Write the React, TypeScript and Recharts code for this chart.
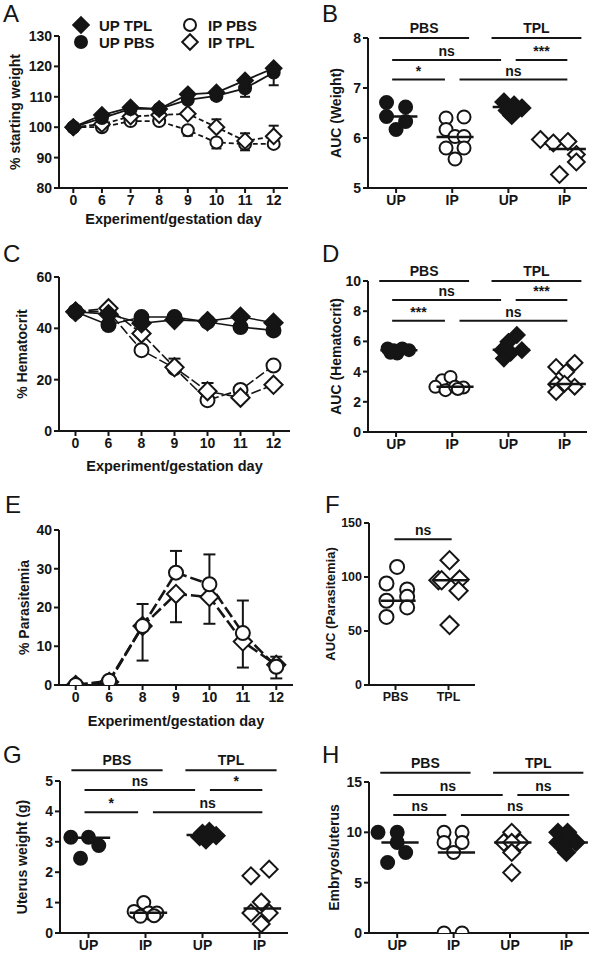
import React from 'react';
import {
  LineChart, Line, XAxis, YAxis, ErrorBar, ScatterChart, Scatter, ReferenceLine, Legend,
} from 'recharts';

const FONT = '"Liberation Sans", Arial, Helvetica, sans-serif';
const INK = '#151515';

// A - body weight (% of starting weight)
const weightDays = ['0', '6', '7', '8', '9', '10', '11', '12'];
const weightUpTpl = [100, 104, 106.5, 106, 110.8, 111.4, 115.4, 119.4];
const weightUpPbs = [100, 103, 106, 106, 109, 110.3, 112.8, 118];
const weightIpPbs = [100, 100, 102, 102, 99, 95, 94.5, 94.5];
const weightIpTpl = [100, 101, 103.5, 104, 104.4, 100, 95.5, 97];
const weightUpPbsSem = [0, 0, 0, 0, 0, 1.3, 2.8, 4.2];
const weightIpPbsSem = [0, 0, 0, 0, 1.8, 2, 2.1, 0];
const weightIpTplSem = [0, 0, 0, 0, 0, 2.6, 2.5, 3.5];

// C - hematocrit
const hctDays = ['0', '6', '8', '9', '10', '11', '12'];
const hctUpTpl = [46.5, 45.5, 42, 43.3, 42.8, 44.5, 42.2];
const hctUpPbs = [46.5, 41.3, 44.4, 44.4, 42.5, 40.5, 39.2];
const hctIpPbs = [46.5, 46.5, 31.5, 24.5, 12, 16, 25.5];
const hctIpTpl = [46.5, 47.8, 38, 24.8, 15.5, 13, 18];
const hctIpTplSem = [0, 0, 0, 3.4, 3.2, 0, 0];

// E - parasitemia
const paraDays = ['0', '6', '8', '9', '10', '11', '12'];
const paraIpPbs = [0, 1.1, 15.2, 29, 26, 13.4, 4.7];
const paraIpTpl = [0, 0.8, 15.2, 23.5, 22.7, 11.2, 5.2];
const paraIpPbsSem = [0, 0, 5.7, 5.6, 7.7, 8.4, 2.6];
const paraIpTplSem = [0, 0, 8.9, 7.3, 6.9, 6.7, 3.5];

// B - AUC weight (values, horizontal scatter in category units)
const upIpLabels = ['UP', 'IP', 'UP', 'IP'];
const aucWeightUpPbs = [6.71, 6.62, 6.43, 6.33, 6.17];
const aucWeightUpPbsX = [-0.17, 0.17, -0.17, 0.17, 0];
const aucWeightIpPbs = [6.4, 6.42, 6.17, 6.03, 6.03, 5.8, 5.8, 5.58];
const aucWeightIpPbsX = [-0.11, 0.21, -0.11, 0.05, 0.21, -0.11, 0.21, 0.05];
const aucWeightUpTpl = [6.72, 6.66, 6.6, 6.55, 6.45];
const aucWeightUpTplX = [-0.08, 0.1, 0.24, -0.02, 0.06];
const aucWeightIpTpl = [5.97, 5.9, 5.93, 5.67, 5.52, 5.27];
const aucWeightIpTplX = [-0.43, -0.2, 0.06, 0.21, 0.21, -0.09];
const aucWeightMedians = [6.43, 6.02, 6.62, 5.78];
const aucWeightLevels = [8, 7.56, 7.17];
const aucWeightStars = ['ns', '***', '*', 'ns'];

// D - AUC hematocrit
const aucHctUpPbs = [5.53, 5.42, 5.53, 5.42, 5.2, 5.25];
const aucHctUpPbsX = [-0.15, -0.04, 0.11, 0.23, 0.02, -0.1];
const aucHctIpPbs = [3.43, 3.65, 2.99, 2.77, 3.0, 2.95, 2.85];
const aucHctIpPbsX = [-0.18, -0.03, -0.3, -0.12, 0.05, 0.2, 0.1];
const aucHctUpTpl = [6.42, 5.97, 5.42, 5.42, 5.25, 4.87];
const aucHctUpTplX = [0.15, 0, 0.24, -0.11, 0.04, -0.08];
const aucHctIpTpl = [4.31, 4.58, 3.98, 3.16, 2.65, 3.0, 3.2];
const aucHctIpTplX = [-0.15, 0.18, 0.03, -0.15, -0.15, 0.18, 0];
const aucHctMedians = [5.42, 3.0, 5.45, 3.18];
const aucHctLevels = [10, 8.74, 7.37];
const aucHctStars = ['ns', '***', '***', 'ns'];

// F - AUC parasitemia
const treatLabels = ['PBS', 'TPL'];
const aucParaPbs = [109.3, 94, 88.4, 78, 81.6, 71.8, 63];
const aucParaPbsX = [0.03, -0.17, 0.22, -0.17, 0.22, 0.22, -0.17];
const aucParaTpl = [115.5, 97, 97, 97.6, 87.2, 55.5];
const aucParaTplX = [0.02, -0.19, -0.13, 0.21, 0.19, 0.02];
const aucParaMedians = [78, 97];
const aucParaLevel = 135;

// G - uterus weight
const uterusUpPbs = [3.15, 3.15, 2.88, 2.46];
const uterusUpPbsX = [-0.31, 0, 0.18, -0.14];
const uterusIpPbs = [1.0, 0.71, 0.66, 0.66, 0.55, 0.57];
const uterusIpPbsX = [-0.03, -0.2, 0.06, 0.2, -0.09, 0.15];
const uterusUpTpl = [3.28, 3.34, 3.2, 3.06, 3.17];
const uterusUpTplX = [0, 0.12, 0.24, 0.06, -0.05];
const uterusIpTpl = [1.88, 2.1, 1.02, 0.66, 0.66, 0.3];
const uterusIpTplX = [-0.15, 0.17, 0.03, -0.15, 0.17, 0.03];
const uterusMedians = [3.13, 0.67, 3.22, 0.81];
const uterusLevels = [5.35, 4.7, 3.97];
const uterusStars = ['ns', '*', '*', 'ns'];

// H - embryos per uterus
const embryoUpPbs = [10, 10, 9, 8, 7];
const embryoUpPbsX = [-0.34, 0, 0, 0.15, -0.17];
const embryoIpPbs = [10, 10, 9, 9, 8, 0, 0];
const embryoIpPbsX = [-0.17, 0.15, -0.17, 0.15, 0, -0.17, 0.15];
const embryoUpTpl = [10, 9, 9, 9, 8, 6];
const embryoUpTplX = [0.03, -0.11, 0.18, 0.03, 0.03, 0.03];
const embryoIpTpl = [10, 10, 9, 9, 9, 8];
const embryoIpTplX = [-0.15, 0.02, -0.15, 0.02, 0.17, 0];
const embryoMedians = [9, 8, 9, 9];
const embryoLevels = [15.93, 13.71, 11.72];
const embryoStars = ['ns', 'ns', 'ns', 'ns'];

type Kind = 'filledCircle' | 'openCircle' | 'filledDiamond' | 'openDiamond';

function Marker({ cx, cy, kind, size }: { cx?: number; cy?: number; kind: Kind; size: number }) {
  if (cx == null || cy == null || Number.isNaN(cx) || Number.isNaN(cy)) return null;
  const filled = kind === 'filledCircle' || kind === 'filledDiamond';
  const fill = filled ? INK : '#fff';
  if (kind === 'filledCircle' || kind === 'openCircle') {
    return <circle cx={cx} cy={cy} r={size} fill={fill} stroke={INK} strokeWidth={2} />;
  }
  const d = size * 1.3;
  return (
    <path
      d={`M${cx},${cy - d}L${cx + d},${cy}L${cx},${cy + d}L${cx - d},${cy}Z`}
      fill={fill}
      stroke={INK}
      strokeWidth={2}
    />
  );
}

const dotOf = (kind: Kind, size: number) => (p: any) => (
  <Marker key={`m-${p.index}`} cx={p.cx} cy={p.cy} kind={kind} size={size} />
);

const tickStyle = { fill: INK, fontSize: 14, fontWeight: 700, fontFamily: FONT };
const axisLine = { stroke: INK, strokeWidth: 2 };
const tickLine = { stroke: INK, strokeWidth: 2 };
const textStyle = { fill: INK, fontSize: 14, fontWeight: 700, fontFamily: FONT };

const yLabel = (value: string, offset: number, fontSize = 14) => ({
  value,
  angle: -90,
  position: 'insideLeft' as const,
  offset,
  style: { textAnchor: 'middle' },
  ...textStyle,
  fontSize,
});

const xTitle = (offset: number) => ({
  value: 'Experiment/gestation day',
  position: 'insideTop' as const,
  offset,
  ...textStyle,
  fontSize: 14.5,
});

const sem = (v: number, up: boolean) => (v ? (up ? [0, v] : [v, 0]) : null);

const weightRows = weightDays.map((day, i) => ({
  i, day,
  upTpl: weightUpTpl[i], upPbs: weightUpPbs[i], ipPbs: weightIpPbs[i], ipTpl: weightIpTpl[i],
  upPbsErr: sem(weightUpPbsSem[i], false),
  ipPbsErr: sem(weightIpPbsSem[i], false),
  ipTplErr: sem(weightIpTplSem[i], true),
}));

const hctRows = hctDays.map((day, i) => ({
  i, day,
  upTpl: hctUpTpl[i], upPbs: hctUpPbs[i], ipPbs: hctIpPbs[i], ipTpl: hctIpTpl[i],
  ipTplErr: sem(hctIpTplSem[i], true),
}));

const paraRows = paraDays.map((day, i) => ({
  i, day,
  ipPbs: paraIpPbs[i], ipTpl: paraIpTpl[i],
  ipPbsErr: sem(paraIpPbsSem[i], true),
  ipTplErr: sem(paraIpTplSem[i], false),
}));

const weightSeries: { key: string; name: string; kind: Kind }[] = [
  { key: 'upTpl', name: 'UP TPL', kind: 'filledDiamond' },
  { key: 'upPbs', name: 'UP PBS', kind: 'filledCircle' },
  { key: 'ipPbs', name: 'IP PBS', kind: 'openCircle' },
  { key: 'ipTpl', name: 'IP TPL', kind: 'openDiamond' },
];

function WeightLegend() {
  return (
    <svg width={300} height={52} style={{ display: 'block' }}>
      {weightSeries.map((s, k) => {
        const x = k < 2 ? 81 : 190;
        const y = k % 2 === 0 ? 25 : 42;
        return (
          <g key={s.key}>
            <Marker cx={x} cy={y} kind={s.kind} size={6} />
            <text x={x + 18} y={y + 5.5} {...textStyle} fontSize={15}>{s.name}</text>
          </g>
        );
      })}
    </svg>
  );
}

const points = (vals: number[], offs: number[], group: number) =>
  vals.map((y, k) => ({ x: group + offs[k], y }));

const shapeOf = (kind: Kind, size: number) => (p: any) => (
  <Marker cx={p.cx} cy={p.cy} kind={kind} size={size} />
);

const noShape = () => <g />;

const headers = [
  { text: 'PBS', from: 1, to: 2 },
  { text: 'TPL', from: 3, to: 4 },
];
// from group, to group, row
const pairs = [[1, 3, 1], [3, 4, 1], [1, 2, 2], [2, 4, 2]];

function brackets(levels: number[], stars: string[], id: string) {
  const out: React.ReactNode[] = [];
  headers.forEach((h) => {
    out.push(
      <ReferenceLine
        key={`${id}-h-${h.text}`}
        segment={[{ x: h.from - 0.3, y: levels[0] }, { x: h.to + 0.3, y: levels[0] }]}
        stroke={INK}
        strokeWidth={2}
        ifOverflow="visible"
        label={{ value: h.text, position: 'top', offset: 5, ...textStyle }}
      />,
    );
  });
  pairs.forEach(([a, b, row], k) => {
    const sharedStart = pairs.some(([, b2, r2]) => r2 === row && b2 === a);
    const sharedEnd = pairs.some(([a2, , r2]) => r2 === row && a2 === b);
    const x1 = a + (sharedStart ? 0.13 : -0.07);
    const x2 = b + (sharedEnd ? -0.13 : 0.05);
    out.push(
      <ReferenceLine
        key={`${id}-c-${k}`}
        segment={[{ x: x1, y: levels[row] }, { x: x2, y: levels[row] }]}
        stroke={INK}
        strokeWidth={2}
        ifOverflow="visible"
        label={{ value: stars[k], position: 'top', offset: 4, ...textStyle }}
      />,
    );
  });
  return out;
}

// median bars as two-point scatter lines so they sit above the symbols
function medianLines(medians: number[], id: string) {
  return medians.map((m, k) => (
    <Scatter
      key={`${id}-med-${k}`}
      data={[{ x: k + 1 - 0.28, y: m }, { x: k + 1 + 0.38, y: m }]}
      line={{ stroke: INK, strokeWidth: 2.5 }}
      shape={noShape}
      legendType="none"
      isAnimationActive={false}
    />
  ));
}

type Group = { vals: number[]; offs: number[]; kind: Kind };

function DotPlot(props: {
  left: number; top: number; width: number; height: number;
  margin: { top: number; right: number; bottom: number; left: number };
  yWidth: number; xHeight: number; xDomain: [number, number]; labels: string[];
  yDomain: [number, number]; yTicks: number[]; yTitle: string; yTitleX: number;
  groups: Group[]; size: number; medians: number[]; children?: React.ReactNode;
  tickSize?: number; yTitleSize?: number;
}) {
  const ticks = props.labels.map((_, k) => k + 1);
  const tStyle = { ...tickStyle, fontSize: props.tickSize ?? 14 };
  return (
    <div style={{ position: 'absolute', left: props.left, top: props.top }}>
      <ScatterChart width={props.width} height={props.height} margin={props.margin}>
        <XAxis
          dataKey="x" type="number" domain={props.xDomain} ticks={ticks} allowDataOverflow
          tickFormatter={(v: number) => props.labels[v - 1]}
          height={props.xHeight} axisLine={axisLine} tickLine={tickLine} tickSize={5} tick={tStyle}
        />
        <YAxis
          dataKey="y" type="number" domain={props.yDomain} ticks={props.yTicks} allowDataOverflow
          width={props.yWidth} axisLine={axisLine} tickLine={tickLine} tickSize={5} tick={tStyle}
          label={yLabel(props.yTitle, props.yTitleX, props.yTitleSize ?? 14)}
        />
        {props.groups.map((g, k) => (
          <Scatter
            key={k}
            data={points(g.vals, g.offs, k + 1)}
            shape={shapeOf(g.kind, props.size)}
            isAnimationActive={false}
          />
        ))}
        {medianLines(props.medians, props.yTitle)}
        {props.children}
      </ScatterChart>
    </div>
  );
}

const letterStyle = (left: number, top: number): React.CSSProperties => ({
  position: 'absolute', left, top, fontFamily: FONT, fontSize: 24, lineHeight: '24px', color: INK,
});

export default function App() {
  return (
    <div style={{ position: 'absolute', left: 0, top: 0, width: 599, height: 954, background: '#fff', overflow: 'hidden' }}>
      {/* A */}
      <div style={{ position: 'absolute', left: 0, top: 0 }}>
        <LineChart width={300} height={235} data={weightRows} margin={{ top: 36, right: 12, bottom: 0, left: 0 }}>
          <XAxis
            dataKey="i" type="number" domain={[-0.5, 7.5]} ticks={[0, 1, 2, 3, 4, 5, 6, 7]} allowDataOverflow
            tickFormatter={(v: number) => weightDays[v]} height={47}
            axisLine={axisLine} tickLine={tickLine} tickSize={5} tick={tickStyle} label={xTitle(26)}
          />
          <YAxis
            domain={[80, 130]} ticks={[80, 90, 100, 110, 120, 130]} allowDataOverflow width={59}
            axisLine={axisLine} tickLine={tickLine} tickSize={5} tick={tickStyle}
            label={yLabel('% starting weight', 15)}
          />
          <Line dataKey="ipPbs" stroke={INK} strokeWidth={1.8} strokeDasharray="5 3" isAnimationActive={false} dot={dotOf('openCircle', 6)} activeDot={false}>
            <ErrorBar dataKey="ipPbsErr" direction="y" width={5} stroke={INK} strokeWidth={2} />
          </Line>
          <Line dataKey="ipTpl" stroke={INK} strokeWidth={1.8} strokeDasharray="5 3" isAnimationActive={false} dot={dotOf('openDiamond', 6)} activeDot={false}>
            <ErrorBar dataKey="ipTplErr" direction="y" width={5} stroke={INK} strokeWidth={2} />
          </Line>
          <Line dataKey="upPbs" stroke={INK} strokeWidth={1.8} isAnimationActive={false} dot={dotOf('filledCircle', 6)} activeDot={false}>
            <ErrorBar dataKey="upPbsErr" direction="y" width={5} stroke={INK} strokeWidth={2} />
          </Line>
          <Line dataKey="upTpl" stroke={INK} strokeWidth={1.8} isAnimationActive={false} dot={dotOf('filledDiamond', 6)} activeDot={false} />
          <Legend
            layout="vertical" verticalAlign="middle" align="center"
            wrapperStyle={{ left: 0, top: 0, width: 300, height: 52 }}
            content={() => <WeightLegend />}
          />
        </LineChart>
      </div>

      {/* B */}
      <DotPlot
        left={300} top={0} width={299} height={235}
        margin={{ top: 38, right: 12, bottom: 0, left: 0 }} yWidth={68} xHeight={47}
        xDomain={[0.5, 4.4]} labels={upIpLabels} yDomain={[5, 8]} yTicks={[5, 6, 7, 8]}
        yTitle="AUC (Weight)" yTitleX={36} size={6.5} medians={aucWeightMedians}
        groups={[
          { vals: aucWeightUpPbs, offs: aucWeightUpPbsX, kind: 'filledCircle' },
          { vals: aucWeightIpPbs, offs: aucWeightIpPbsX, kind: 'openCircle' },
          { vals: aucWeightUpTpl, offs: aucWeightUpTplX, kind: 'filledDiamond' },
          { vals: aucWeightIpTpl, offs: aucWeightIpTplX, kind: 'openDiamond' },
        ]}
      >
        {brackets(aucWeightLevels, aucWeightStars, 'B')}
      </DotPlot>

      {/* C */}
      <div style={{ position: 'absolute', left: 0, top: 235 }}>
        <LineChart width={300} height={240} data={hctRows} margin={{ top: 42, right: 10, bottom: 0, left: 0 }}>
          <XAxis
            dataKey="i" type="number" domain={[-0.5, 6.5]} ticks={[0, 1, 2, 3, 4, 5, 6]} allowDataOverflow
            tickFormatter={(v: number) => hctDays[v]} height={44}
            axisLine={axisLine} tickLine={tickLine} tickSize={5} tick={tickStyle} label={xTitle(30)}
          />
          <YAxis
            domain={[0, 60]} ticks={[0, 20, 40, 60]} allowDataOverflow width={59}
            axisLine={axisLine} tickLine={tickLine} tickSize={5} tick={tickStyle}
            label={yLabel('% Hematocrit', 22)}
          />
          <Line dataKey="ipPbs" stroke={INK} strokeWidth={1.6} strokeDasharray="10 3" isAnimationActive={false} dot={dotOf('openCircle', 7)} activeDot={false} />
          <Line dataKey="ipTpl" stroke={INK} strokeWidth={1.6} strokeDasharray="10 3" isAnimationActive={false} dot={dotOf('openDiamond', 7)} activeDot={false}>
            <ErrorBar dataKey="ipTplErr" direction="y" width={6} stroke={INK} strokeWidth={2} />
          </Line>
          <Line dataKey="upPbs" stroke={INK} strokeWidth={1.6} isAnimationActive={false} dot={dotOf('filledCircle', 7)} activeDot={false} />
          <Line dataKey="upTpl" stroke={INK} strokeWidth={1.6} isAnimationActive={false} dot={dotOf('filledDiamond', 7)} activeDot={false} />
        </LineChart>
      </div>

      {/* D */}
      <DotPlot
        left={300} top={235} width={299} height={240}
        margin={{ top: 46, right: 12, bottom: 0, left: 0 }} yWidth={68} xHeight={43}
        xDomain={[0.5, 4.4]} labels={upIpLabels} yDomain={[0, 10]} yTicks={[0, 2, 4, 6, 8, 10]}
        yTitle="AUC (Hematocrit)" yTitleX={36} size={6} medians={aucHctMedians}
        groups={[
          { vals: aucHctUpPbs, offs: aucHctUpPbsX, kind: 'filledCircle' },
          { vals: aucHctIpPbs, offs: aucHctIpPbsX, kind: 'openCircle' },
          { vals: aucHctUpTpl, offs: aucHctUpTplX, kind: 'filledDiamond' },
          { vals: aucHctIpTpl, offs: aucHctIpTplX, kind: 'openDiamond' },
        ]}
      >
        {brackets(aucHctLevels, aucHctStars, 'D')}
      </DotPlot>

      {/* E */}
      <div style={{ position: 'absolute', left: 0, top: 470 }}>
        <LineChart width={300} height={265} data={paraRows} margin={{ top: 60, right: 7, bottom: 0, left: 0 }}>
          <XAxis
            dataKey="i" type="number" domain={[-0.5, 6.5]} ticks={[0, 1, 2, 3, 4, 5, 6]} allowDataOverflow
            tickFormatter={(v: number) => paraDays[v]} height={50}
            axisLine={axisLine} tickLine={tickLine} tickSize={5} tick={tickStyle} label={xTitle(31)}
          />
          <YAxis
            domain={[0, 40]} ticks={[0, 10, 20, 30, 40]} allowDataOverflow width={59}
            axisLine={axisLine} tickLine={tickLine} tickSize={5} tick={tickStyle}
            label={yLabel('% Parasitemia', 24)}
          />
          <Line dataKey="ipTpl" stroke={INK} strokeWidth={2.6} strokeDasharray="12 4" isAnimationActive={false} dot={dotOf('openDiamond', 7)} activeDot={false}>
            <ErrorBar dataKey="ipTplErr" direction="y" width={6} stroke={INK} strokeWidth={2} />
          </Line>
          <Line dataKey="ipPbs" stroke={INK} strokeWidth={2.6} strokeDasharray="12 4" isAnimationActive={false} dot={dotOf('openCircle', 7)} activeDot={false}>
            <ErrorBar dataKey="ipPbsErr" direction="y" width={6} stroke={INK} strokeWidth={2} />
          </Line>
        </LineChart>
      </div>

      {/* F */}
      <DotPlot
        left={300} top={470} width={299} height={240}
        margin={{ top: 53, right: 124, bottom: 0, left: 0 }} yWidth={69} xHeight={25}
        xDomain={[0.5, 2.5]} labels={treatLabels} yDomain={[0, 150]} yTicks={[0, 50, 100, 150]}
        yTitle="AUC (Parasitemia)" yTitleX={30} size={7} medians={aucParaMedians}
        tickSize={12.5} yTitleSize={13}
        groups={[
          { vals: aucParaPbs, offs: aucParaPbsX, kind: 'openCircle' },
          { vals: aucParaTpl, offs: aucParaTplX, kind: 'openDiamond' },
        ]}
      >
        <ReferenceLine
          segment={[{ x: 0.98, y: aucParaLevel }, { x: 2.06, y: aucParaLevel }]}
          stroke={INK} strokeWidth={2} ifOverflow="visible"
          label={{ value: 'ns', position: 'top', offset: 4, ...textStyle }}
        />
      </DotPlot>

      {/* G */}
      <DotPlot
        left={0} top={735} width={300} height={219}
        margin={{ top: 46, right: 12, bottom: 0, left: 0 }} yWidth={60} xHeight={21}
        xDomain={[0.5, 4.5]} labels={upIpLabels} yDomain={[0, 5]} yTicks={[0, 1, 2, 3, 4, 5]}
        yTitle="Uterus weight (g)" yTitleX={22} size={6.5} medians={uterusMedians}
        groups={[
          { vals: uterusUpPbs, offs: uterusUpPbsX, kind: 'filledCircle' },
          { vals: uterusIpPbs, offs: uterusIpPbsX, kind: 'openCircle' },
          { vals: uterusUpTpl, offs: uterusUpTplX, kind: 'filledDiamond' },
          { vals: uterusIpTpl, offs: uterusIpTplX, kind: 'openDiamond' },
        ]}
      >
        {brackets(uterusLevels, uterusStars, 'G')}
      </DotPlot>

      {/* H */}
      <DotPlot
        left={300} top={735} width={299} height={219}
        margin={{ top: 47, right: 10, bottom: 0, left: 0 }} yWidth={69} xHeight={21}
        xDomain={[0.5, 4.4]} labels={upIpLabels} yDomain={[0, 15]} yTicks={[0, 5, 10, 15]}
        yTitle="Embryos/uterus" yTitleX={34} size={6.5} medians={embryoMedians}
        groups={[
          { vals: embryoUpPbs, offs: embryoUpPbsX, kind: 'filledCircle' },
          { vals: embryoIpPbs, offs: embryoIpPbsX, kind: 'openCircle' },
          { vals: embryoUpTpl, offs: embryoUpTplX, kind: 'openDiamond' },
          { vals: embryoIpTpl, offs: embryoIpTplX, kind: 'filledDiamond' },
        ]}
      >
        {brackets(embryoLevels, embryoStars, 'H')}
      </DotPlot>

      <div style={letterStyle(3, 2)}>A</div>
      <div style={letterStyle(322, 2)}>B</div>
      <div style={letterStyle(3, 242)}>C</div>
      <div style={letterStyle(322, 242)}>D</div>
      <div style={letterStyle(5, 493)}>E</div>
      <div style={letterStyle(325, 493)}>F</div>
      <div style={letterStyle(3, 743)}>G</div>
      <div style={letterStyle(322, 743)}>H</div>
    </div>
  );
}
